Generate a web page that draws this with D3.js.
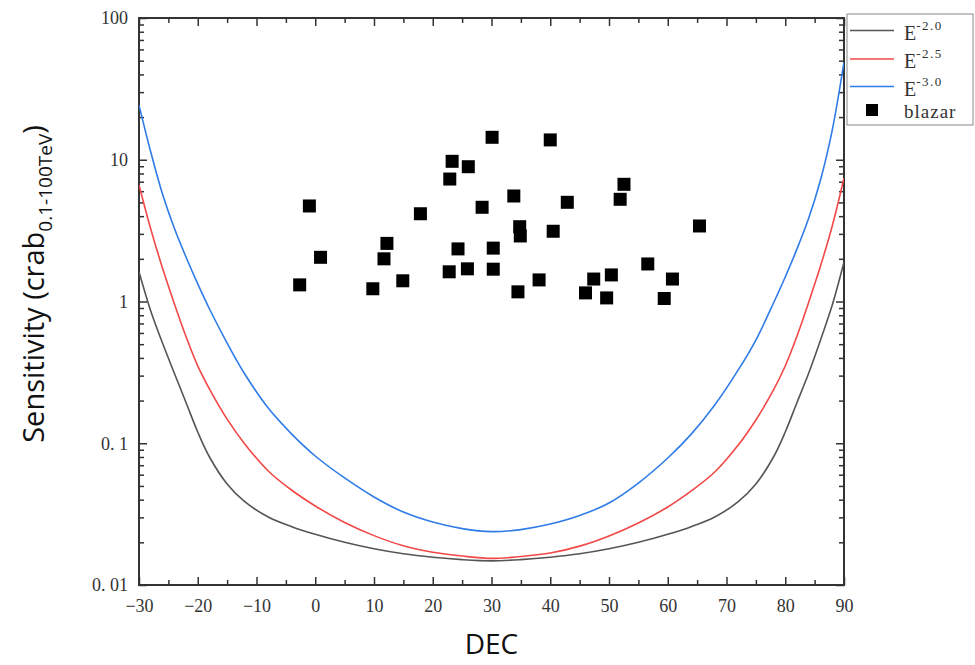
<!DOCTYPE html>
<html>
<head>
<meta charset="utf-8">
<script src="https://cdn.jsdelivr.net/npm/d3@7"></script>
<style>
  body { margin: 0; background: #fff; }
  svg { display: block; }
</style>
</head>
<body>
<div id="chart"></div>
<script>
const width = 975;
const height = 665;

// declination grid shared by the three sensitivity curves
const dec = [-30, -28, -26, -24, -22, -20, -18, -15, -12, -8, -4, 0, 5, 10, 15, 20, 25, 30,
  35, 40, 45, 50, 55, 60, 64, 68, 72, 75, 78, 80, 82, 84, 86, 88, 90];
const sensE20 = [1.62, 0.857, 0.509, 0.313, 0.194, 0.12, 0.08, 0.0516, 0.0387, 0.0302, 0.0258, 0.0228,
  0.02, 0.018, 0.0166, 0.0157, 0.0151, 0.0148, 0.0151, 0.0157, 0.0166, 0.018, 0.02, 0.0228,
  0.0258, 0.0302, 0.0387, 0.0516, 0.08, 0.12, 0.194, 0.313, 0.535, 0.944, 1.9];
const sensE25 = [6.64, 3.25, 1.72, 0.968, 0.566, 0.351, 0.241, 0.148, 0.0989, 0.0637, 0.0466, 0.0361,
  0.0276, 0.0223, 0.0189, 0.017, 0.016, 0.0154, 0.0159, 0.0168, 0.0188, 0.0222, 0.0274, 0.0355,
  0.0461, 0.0627, 0.0972, 0.146, 0.238, 0.351, 0.571, 0.991, 1.78, 3.41, 7.43];
const sensE30 = [24.3, 11.34, 5.73, 3.3, 2.06, 1.33, 0.885, 0.509, 0.308, 0.177, 0.116, 0.0813,
  0.0569, 0.0418, 0.0327, 0.0278, 0.025, 0.0238, 0.0246, 0.0269, 0.0309, 0.0379, 0.0524, 0.0787,
  0.116, 0.186, 0.329, 0.535, 0.976, 1.49, 2.35, 3.88, 7.2, 16.2, 48.9];

// blazars
const blazarDec = [-2.65, -1.0, 0.9, 9.8, 11.7, 12.2, 14.9, 17.9, 22.9, 23.3, 22.8, 24.3,
  26.05, 25.9, 28.4, 30.1, 30.3, 30.3, 33.8, 34.8, 34.9, 34.5, 38.1, 40.0, 40.5, 42.9,
  46.0, 47.4, 49.6, 50.4, 51.9, 52.55, 56.6, 59.4, 60.8, 65.4];
const blazarSens = [1.31, 4.72, 2.05, 1.23, 2.0, 2.57, 1.4, 4.16, 7.31, 9.75, 1.62, 2.35,
  8.93, 1.7, 4.62, 14.4, 2.38, 1.69, 5.55, 3.37, 2.9, 1.17, 1.42, 13.8, 3.13, 5.01,
  1.15, 1.44, 1.06, 1.54, 5.26, 6.71, 1.84, 1.05, 1.44, 3.41];

const xTicks = [-30, -20, -10, 0, 10, 20, 30, 40, 50, 60, 70, 80, 90];
const xMinor = [-25, -15, -5, 5, 15, 25, 35, 45, 55, 65, 75, 85];
const yTicks = [0.01, 0.1, 1, 10, 100];
const yTickLabels = ["0. 01", "0. 1", "1", "10", "100"];

const series = [
  { name: "-2.0", values: sensE20, color: "#555555" },
  { name: "-2.5", values: sensE25, color: "#f24848" },
  { name: "-3.0", values: sensE30, color: "#2f7ce8" }
];

const margin = { top: 18, right: 131, bottom: 80, left: 139 };
const x = d3.scaleLinear().domain([-30, 90]).range([margin.left, width - margin.right]);
const y = d3.scaleLog().domain([0.01, 100]).range([height - margin.bottom, margin.top]);

const svg = d3.select("#chart").append("svg")
  .attr("width", width)
  .attr("height", height)
  .attr("viewBox", [0, 0, width, height]);

const yMinor = [];
for (let d = 0.01; d < 100; d *= 10) {
  for (let k = 2; k <= 9; k++) yMinor.push(+(d * k).toPrecision(3));
}

const tickFont = "'Liberation Serif', 'DejaVu Serif', serif";
const axisColor = "#333";

function styleAxis(g) {
  g.select(".domain").remove();
  g.selectAll(".tick line").attr("stroke", axisColor).attr("stroke-width", 1.5);
  g.selectAll(".tick text").attr("fill", "#333").attr("font-family", tickFont).attr("font-size", 18);
}

// bottom
svg.append("g")
  .attr("transform", `translate(0,${y.range()[0]})`)
  .call(d3.axisBottom(x).tickValues(xTicks).tickSize(-8).tickPadding(14)
    .tickFormat(d => d < 0 ? "\u2212" + Math.abs(d) : d))
  .call(styleAxis);
svg.append("g")
  .attr("transform", `translate(0,${y.range()[0]})`)
  .call(d3.axisBottom(x).tickValues(xMinor).tickSize(-5).tickFormat(""))
  .call(styleAxis);
// top
svg.append("g")
  .attr("transform", `translate(0,${y.range()[1]})`)
  .call(d3.axisTop(x).tickValues(xTicks).tickSize(-8).tickFormat(""))
  .call(styleAxis);
svg.append("g")
  .attr("transform", `translate(0,${y.range()[1]})`)
  .call(d3.axisTop(x).tickValues(xMinor).tickSize(-5).tickFormat(""))
  .call(styleAxis);
// left
svg.append("g")
  .attr("transform", `translate(${x.range()[0]},0)`)
  .call(d3.axisLeft(y).tickValues(yTicks).tickSize(-8).tickPadding(11)
    .tickFormat((d, i) => yTickLabels[i]))
  .call(styleAxis);
svg.append("g")
  .attr("transform", `translate(${x.range()[0]},0)`)
  .call(d3.axisLeft(y).tickValues(yMinor).tickSize(-5).tickFormat(""))
  .call(styleAxis);
// right
svg.append("g")
  .attr("transform", `translate(${x.range()[1]},0)`)
  .call(d3.axisRight(y).tickValues(yTicks).tickSize(-8).tickFormat(""))
  .call(styleAxis);
svg.append("g")
  .attr("transform", `translate(${x.range()[1]},0)`)
  .call(d3.axisRight(y).tickValues(yMinor).tickSize(-5).tickFormat(""))
  .call(styleAxis);

// frame
svg.append("rect")
  .attr("x", x.range()[0])
  .attr("y", y.range()[1])
  .attr("width", x.range()[1] - x.range()[0])
  .attr("height", y.range()[0] - y.range()[1])
  .attr("fill", "none")
  .attr("stroke", axisColor)
  .attr("stroke-width", 2);

const line = d3.line()
  .x((d, i) => x(dec[i]))
  .y(d => y(d))
  .curve(d3.curveCatmullRom.alpha(0.5));

svg.append("defs").append("clipPath").attr("id", "plotclip")
  .append("rect")
  .attr("x", x.range()[0]).attr("y", y.range()[1])
  .attr("width", x.range()[1] - x.range()[0])
  .attr("height", y.range()[0] - y.range()[1]);

svg.append("g").attr("clip-path", "url(#plotclip)")
  .selectAll("path")
  .data(series)
  .join("path")
  .attr("d", d => line(d.values))
  .attr("fill", "none")
  .attr("stroke", d => d.color)
  .attr("stroke-width", 1.6);

const sq = 13;
svg.append("g")
  .selectAll("rect")
  .data(blazarDec.map((d, i) => [d, blazarSens[i]]))
  .join("rect")
  .attr("x", d => x(d[0]) - sq / 2)
  .attr("y", d => y(d[1]) - sq / 2)
  .attr("width", sq)
  .attr("height", sq)
  .attr("fill", "#000");

// legend
const leg = svg.append("g").attr("transform", "translate(847,14)");
leg.append("rect")
  .attr("width", 126).attr("height", 111)
  .attr("fill", "#fff").attr("stroke", "#888").attr("stroke-width", 1);
const rowY = [16.5, 45, 72.5, 96];
series.forEach((s, i) => {
  leg.append("line")
    .attr("x1", 3).attr("x2", 47)
    .attr("y1", rowY[i]).attr("y2", rowY[i])
    .attr("stroke", s.color).attr("stroke-width", 1.6);
  const t = leg.append("text")
    .attr("x", 57).attr("y", rowY[i] + 9)
    .attr("font-family", tickFont).attr("font-size", 20).attr("fill", "#333");
  t.append("tspan").text("E");
  t.append("tspan").attr("dy", -10).attr("font-size", 13).attr("letter-spacing", 1.5).text(s.name);
});
leg.append("rect")
  .attr("x", 25 - 6).attr("y", rowY[3] - 6).attr("width", 12).attr("height", 12).attr("fill", "#000");
leg.append("text")
  .attr("x", 57).attr("y", rowY[3] + 8)
  .attr("font-family", tickFont).attr("font-size", 19).attr("fill", "#333")
  .attr("letter-spacing", 1)
  .text("blazar");

// axis titles
svg.append("text")
  .attr("x", (x.range()[0] + x.range()[1]) / 2)
  .attr("y", 654)
  .attr("text-anchor", "middle")
  .attr("font-family", "'Open Sans', 'Noto Sans', sans-serif")
  .attr("font-size", 28)
  .attr("fill", "#111")
  .text("DEC");

const yt = svg.append("text")
  .attr("transform", "translate(44,284) rotate(-90)")
  .attr("text-anchor", "middle")
  .attr("font-family", "'Open Sans', 'Noto Sans', sans-serif")
  .attr("font-size", 29)
  .attr("fill", "#111");
yt.append("tspan").text("Sensitivity (crab");
yt.append("tspan").attr("dy", 8).attr("font-size", 19).text("0.1-100TeV");
yt.append("tspan").attr("dy", -8).text(")");
</script>
</body>
</html>
